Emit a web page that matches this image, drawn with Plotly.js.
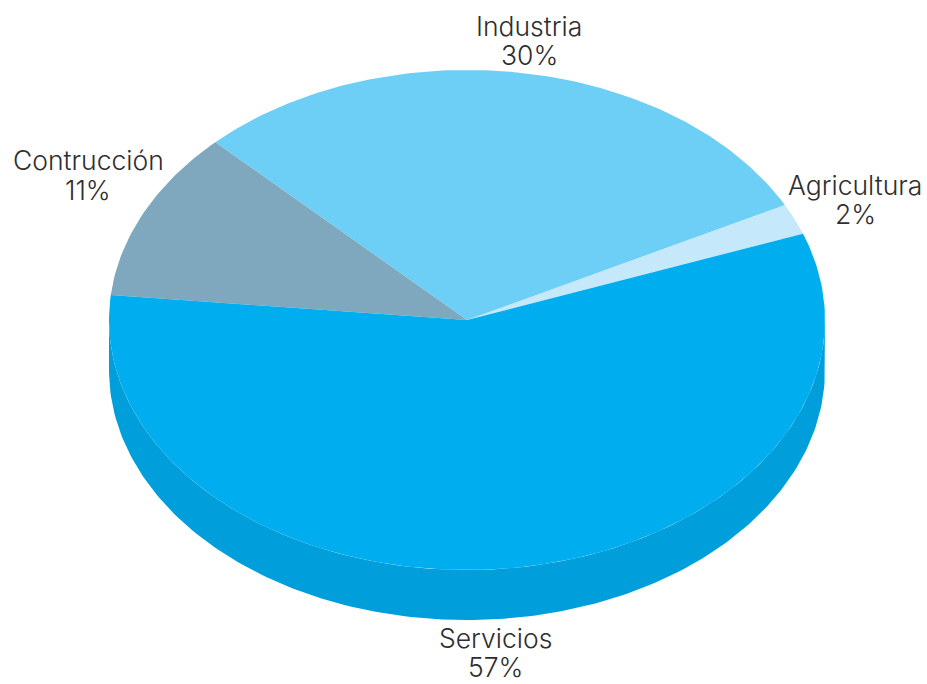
<!DOCTYPE html>
<html><head><meta charset="utf-8">
<script src="https://cdn.plot.ly/plotly-3.0.1.min.js"></script>
<style>html,body{margin:0;padding:0;background:#fff}</style></head>
<body><div id="chart" style="width:927px;height:684px"></div>
<script>
const categories = ["Agricultura", "Industria", "Contrucción", "Servicios"];
const values = [2, 29.8, 11, 57.2];
const sliceColors = ["#C5E9FB", "#6DCFF6", "#7FA8BF", "#00AEEF"];
const wallColor = "#009FDB";
const startAngle = 20.2;

const W = 927, H = 684, cx = 467, cy = 320, rx = 358, ry = 250, depth = 50;
const total = values.reduce((a, b) => a + b, 0);
const px = t => Math.cos(t * Math.PI / 180);
const py = t => Math.sin(t * Math.PI / 180);
function arc(a, b, off) {
  const xs = [], ys = [], n = Math.max(2, Math.ceil(Math.abs(b - a)));
  for (let i = 0; i <= n; i++) { const t = a + (b - a) * i / n; xs.push(px(t)); ys.push(py(t) - off); }
  return [xs, ys];
}
const traces = [];
{
  const [x1, y1] = arc(180, 360, 0);
  const [x2, y2] = arc(360, 180, depth / ry);
  traces.push({type: "scatter", mode: "lines", x: x1.concat(x2), y: y1.concat(y2), fill: "toself",
    fillcolor: wallColor, line: {width: 0, color: wallColor}, hoverinfo: "skip", showlegend: false});
}
let a = startAngle;
const annotations = [];
values.forEach((v, i) => {
  const b = a + v / total * 360;
  const [xs, ys] = arc(a, b, 0);
  traces.push({type: "scatter", mode: "lines", name: categories[i], x: [0, ...xs, 0], y: [0, ...ys, 0],
    fill: "toself", fillcolor: sliceColors[i], line: {width: 0, color: sliceColors[i]}, showlegend: false});
  a = b;
});
const labelX = [855, 529, 88, 495];
const nameY = [185, 26, 160, 638];
const pctY = [214, 55, 190, 667];
const font = {family: "Inter, sans-serif", size: 26.5, weight: 300, color: "#2e2e2e"};
categories.forEach((c, i) => {
  const common = {xref: "x", yref: "y", x: (labelX[i] - cx) / rx, showarrow: false, font};
  annotations.push({...common, y: (cy - nameY[i]) / ry, text: c});
  annotations.push({...common, y: (cy - pctY[i]) / ry, text: Math.round(values[i]) + "%"});
});
Plotly.newPlot("chart", traces, {
  width: W, height: H, margin: {l: 0, r: 0, t: 0, b: 0}, paper_bgcolor: "#fff", plot_bgcolor: "#fff",
  showlegend: false, annotations,
  xaxis: {visible: false, range: [-cx / rx, (W - cx) / rx], fixedrange: true},
  yaxis: {visible: false, range: [(cy - H) / ry, cy / ry], fixedrange: true}
}, {displayModeBar: false, staticPlot: true});
</script></body></html>
